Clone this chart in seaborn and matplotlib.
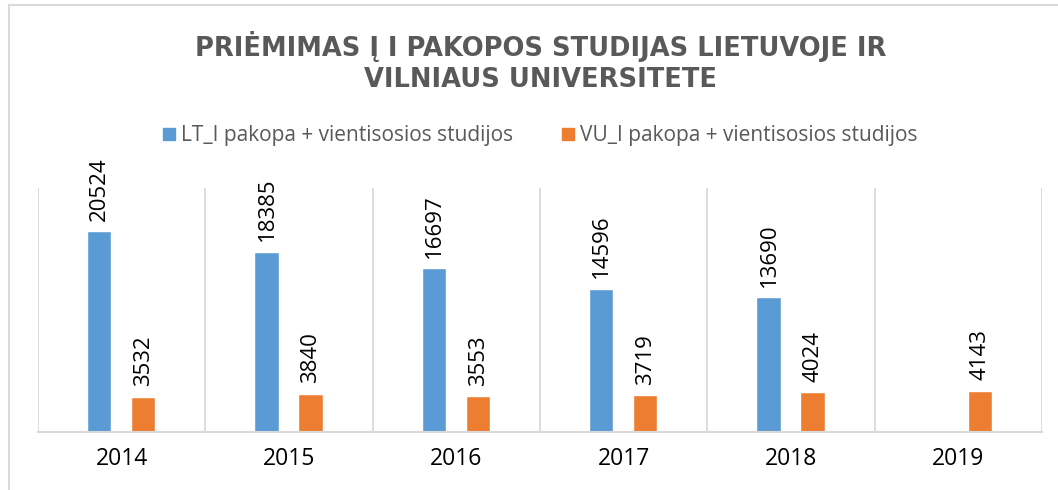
import numpy as np
import pandas as pd
import matplotlib
matplotlib.use("Agg")
import matplotlib.pyplot as plt
from matplotlib.lines import Line2D
import seaborn as sns

years = ["2014", "2015", "2016", "2017", "2018", "2019"]
lt_values = [20524, 18385, 16697, 14596, 13690, np.nan]
vu_values = [3532, 3840, 3553, 3719, 4024, 4143]
series_names = ["LT_I pakopa + vientisosios studijos", "VU_I pakopa + vientisosios studijos"]
title = "PRIĖMIMAS Į I PAKOPOS STUDIJAS LIETUVOJE IR\nVILNIAUS UNIVERSITETE"

df = pd.DataFrame({
    "year": years * 2,
    "value": lt_values + vu_values,
    "series": [series_names[0]] * len(years) + [series_names[1]] * len(years),
})

sns.set_theme(style="white")
plt.rcParams['font.family'] = ['Open Sans', 'DejaVu Sans']

fig = plt.figure(figsize=(10.58, 4.9), dpi=100)
ax = fig.add_axes([38/1058, 1-432/490, (1042-38)/1058, (432-188)/490])

colors = ["#5B9BD5", "#ED7D31"]
sns.barplot(data=df, x="year", y="value", hue="series", order=years,
            hue_order=series_names, palette=colors, width=0.527, gap=0.475,
            ax=ax, legend=False, saturation=1, edgecolor="white", linewidth=0.3)

for cont in ax.containers:
    ax.bar_label(cont, fmt="{:.0f}", rotation=90, padding=8, fontsize=16, color="black")

ax.set_ylim(0, 25000)
ax.set_xlim(-0.5, len(years) - 0.5)
ax.set_xlabel("")
ax.set_ylabel("")
ax.set_yticks([])
ax.set_xticks(range(len(years)))
ax.set_xticklabels(years, fontsize=16.5, color="black")
ax.tick_params(axis="x", length=0, pad=11)
for s in ["top", "right", "left"]:
    ax.spines[s].set_visible(False)
ax.spines["bottom"].set_color("#D9D9D9")
ax.spines["bottom"].set_linewidth(1.5)
for b in np.arange(-0.5, len(years), 1.0):
    ax.axvline(b, color="#D9D9D9", lw=1.3, zorder=0)

fig.text(0.511, 1-62/490, title, ha="center", va="center", fontsize=18.5,
         fontweight="bold", color="#595959", linespacing=1.25,
         family=["DejaVu Sans"])

handles = [Line2D([0], [0], marker="s", color="none", markerfacecolor=c,
                  markeredgecolor=c, markersize=9) for c in colors]
fig.legend(handles, series_names, loc="center", bbox_to_anchor=(0.511, 1-136/490),
           ncol=2, frameon=False, fontsize=15, labelcolor="#595959",
           handlelength=0.5, handletextpad=0.3, columnspacing=2.4)

fig.add_artist(Line2D([8.5/1058, 8.5/1058], [0, 1-5.5/490], transform=fig.transFigure,
                      color="#D9D9D9", lw=1.5))
fig.add_artist(Line2D([8.5/1058, 1], [1-5.5/490, 1-5.5/490], transform=fig.transFigure,
                      color="#D9D9D9", lw=1.5))

fig.savefig("out.png", dpi=100)
